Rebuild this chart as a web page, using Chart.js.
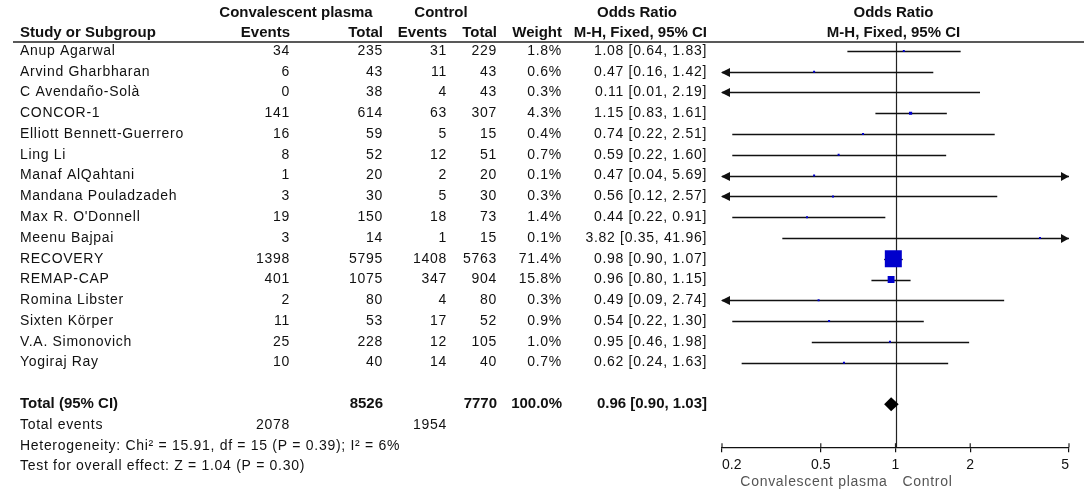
<!DOCTYPE html>
<html>
<head>
<meta charset="utf-8">
<title>Forest plot</title>
<script src="https://cdn.jsdelivr.net/npm/chart.js@4.4.1/dist/chart.umd.min.js"></script>
<style>
  html, body { margin: 0; padding: 0; background: #fff; }
  #wrap { width: 1084px; height: 497px; }
</style>
</head>
<body>
<div id="wrap"><canvas id="forest" width="1084" height="497"></canvas></div>
<script>
// forest plot: convalescent plasma vs control, odds ratios (log axis)

const studies = ['Anup Agarwal', 'Arvind Gharbharan', 'C Avendaño-Solà', 'CONCOR-1',
  'Elliott Bennett-Guerrero', 'Ling Li', 'Manaf AlQahtani', 'Mandana Pouladzadeh',
  "Max R. O'Donnell", 'Meenu Bajpai', 'RECOVERY', 'REMAP-CAP', 'Romina Libster',
  'Sixten Körper', 'V.A. Simonovich', 'Yogiraj Ray'];
const cpEvents = [34, 6, 0, 141, 16, 8, 1, 3, 19, 3, 1398, 401, 2, 11, 25, 10];
const cpTotal = [235, 43, 38, 614, 59, 52, 20, 30, 150, 14, 5795, 1075, 80, 53, 228, 40];
const ctEvents = [31, 11, 4, 63, 5, 12, 2, 5, 18, 1, 1408, 347, 4, 17, 12, 14];
const ctTotal = [229, 43, 43, 307, 15, 51, 20, 30, 73, 15, 5763, 904, 80, 52, 105, 40];
const weights = [1.8, 0.6, 0.3, 4.3, 0.4, 0.7, 0.1, 0.3, 1.4, 0.1, 71.4, 15.8, 0.3, 0.9, 1.0, 0.7];
const oddsRatio = [1.08, 0.47, 0.11, 1.15, 0.74, 0.59, 0.47, 0.56, 0.44, 3.82, 0.98, 0.96, 0.49, 0.54, 0.95, 0.62];
const ciLow = [0.64, 0.16, 0.01, 0.83, 0.22, 0.22, 0.04, 0.12, 0.22, 0.35, 0.90, 0.80, 0.09, 0.22, 0.46, 0.24];
const ciHigh = [1.83, 1.42, 2.19, 1.61, 2.51, 1.60, 5.69, 2.57, 0.91, 41.96, 1.07, 1.15, 2.74, 1.30, 1.98, 1.63];

const pooled = [0.96, 0.90, 1.03];          // OR, low, high
const pooledTotals = [8526, 7770];          // cp total, control total
const pooledEvents = [2078, 1954];          // cp events, control events
const xTicks = [0.2, 0.5, 1, 2, 5];
const heterogeneity = 'Heterogeneity: Chi² = 15.91, df = 15 (P = 0.39); I² = 6%';
const overallTest = 'Test for overall effect: Z = 1.04 (P = 0.30)';

const FAM = '"Liberation Sans", Arial, sans-serif';
const REG = '14px ' + FAM;
const BOLD = 'bold 15px ' + FAM;
const totalRow = studies.length + 1;

// right edges of the table columns
const col = { study: 20, cpEv: 290, cpTot: 383, ctEv: 447, ctTot: 497, weight: 562, or: 707 };

const f2 = v => v.toFixed(2);
const orLabel = (o, l, h) => `${f2(o)} [${f2(l)}, ${f2(h)}]`;

function txt(ctx, s, x, y, align, font, color) {
  ctx.font = font;
  ctx.letterSpacing = font === REG ? '0.7px' : '0px';
  ctx.textAlign = align;
  ctx.fillStyle = color || '#111';
  ctx.fillText(s, x, y);
}

const forestPlugin = {
  id: 'forest',
  beforeDatasetsDraw(chart) {
    const { ctx, chartArea: a, scales: { x, y } } = chart;
    ctx.save();
    // line of no effect
    const x1 = Math.round(x.getPixelForValue(1)) + 0.5;
    ctx.strokeStyle = '#222';
    ctx.lineWidth = 1.2;
    ctx.beginPath(); ctx.moveTo(x1, a.top); ctx.lineTo(x1, a.bottom); ctx.stroke();

    // tick marks also reach above the axis line
    xTicks.forEach(v => {
      const tx = x.getPixelForValue(v);
      ctx.beginPath(); ctx.moveTo(tx, a.bottom - 4); ctx.lineTo(tx, a.bottom); ctx.stroke();
    });

    // confidence intervals with arrows when clipped
    ctx.strokeStyle = '#111';
    ctx.fillStyle = '#111';
    ctx.lineWidth = 1.3;
    studies.forEach((s, i) => {
      const yy = Math.round(y.getPixelForValue(i)) + 0.5;
      const lo = Math.max(ciLow[i], x.min), hi = Math.min(ciHigh[i], x.max);
      const xl = x.getPixelForValue(lo), xh = x.getPixelForValue(hi);
      ctx.beginPath(); ctx.moveTo(xl, yy); ctx.lineTo(xh, yy); ctx.stroke();
      if (ciLow[i] < x.min) {
        ctx.beginPath(); ctx.moveTo(xl - 1, yy); ctx.lineTo(xl + 8, yy - 4.5); ctx.lineTo(xl + 8, yy + 4.5); ctx.closePath(); ctx.fill();
      }
      if (ciHigh[i] > x.max) {
        ctx.beginPath(); ctx.moveTo(xh, yy); ctx.lineTo(xh - 8, yy - 4.5); ctx.lineTo(xh - 8, yy + 4.5); ctx.closePath(); ctx.fill();
      }
    });
    ctx.restore();
  },
  afterDatasetsDraw(chart) {
    const { ctx, scales: { x, y } } = chart;
    ctx.save();
    // pooled diamond
    const yt = y.getPixelForValue(totalRow);
    ctx.fillStyle = '#000';
    ctx.beginPath();
    ctx.moveTo(x.getPixelForValue(pooled[1]), yt);
    ctx.lineTo(x.getPixelForValue(pooled[0]), yt - 7);
    ctx.lineTo(x.getPixelForValue(pooled[2]), yt);
    ctx.lineTo(x.getPixelForValue(pooled[0]), yt + 7);
    ctx.closePath(); ctx.fill();

    ctx.textBaseline = 'middle';
    const xc = x.getPixelForValue(1);
    // headers
    const h1 = y.getPixelForValue(-1.83), h2 = y.getPixelForValue(-0.86);
    txt(ctx, 'Convalescent plasma', 296, h1, 'center', BOLD);
    txt(ctx, 'Control', 441, h1, 'center', BOLD);
    txt(ctx, 'Odds Ratio', 637, h1, 'center', BOLD);
    txt(ctx, 'Odds Ratio', xc - 2, h1, 'center', BOLD);
    txt(ctx, 'Study or Subgroup', col.study, h2, 'left', BOLD);
    txt(ctx, 'Events', col.cpEv, h2, 'right', BOLD);
    txt(ctx, 'Total', col.cpTot, h2, 'right', BOLD);
    txt(ctx, 'Events', col.ctEv, h2, 'right', BOLD);
    txt(ctx, 'Total', col.ctTot, h2, 'right', BOLD);
    txt(ctx, 'Weight', col.weight, h2, 'right', BOLD);
    txt(ctx, 'M-H, Fixed, 95% CI', col.or, h2, 'right', BOLD);
    txt(ctx, 'M-H, Fixed, 95% CI', xc - 2, h2, 'center', BOLD);
    ctx.strokeStyle = '#222';
    ctx.lineWidth = 1.6;
    ctx.beginPath(); ctx.moveTo(13, 42); ctx.lineTo(1084, 42); ctx.stroke();

    // study rows
    studies.forEach((s, i) => {
      const yy = y.getPixelForValue(i);
      txt(ctx, s, col.study, yy, 'left', REG);
      txt(ctx, String(cpEvents[i]), col.cpEv, yy, 'right', REG);
      txt(ctx, String(cpTotal[i]), col.cpTot, yy, 'right', REG);
      txt(ctx, String(ctEvents[i]), col.ctEv, yy, 'right', REG);
      txt(ctx, String(ctTotal[i]), col.ctTot, yy, 'right', REG);
      txt(ctx, weights[i].toFixed(1) + '%', col.weight, yy, 'right', REG);
      txt(ctx, orLabel(oddsRatio[i], ciLow[i], ciHigh[i]), col.or, yy, 'right', REG);
    });

    // totals
    txt(ctx, 'Total (95% CI)', col.study, yt, 'left', BOLD);
    txt(ctx, String(pooledTotals[0]), col.cpTot, yt, 'right', BOLD);
    txt(ctx, String(pooledTotals[1]), col.ctTot, yt, 'right', BOLD);
    txt(ctx, '100.0%', col.weight, yt, 'right', BOLD);
    txt(ctx, orLabel(pooled[0], pooled[1], pooled[2]), col.or, yt, 'right', BOLD);
    const ye = y.getPixelForValue(totalRow + 1);
    txt(ctx, 'Total events', col.study, ye, 'left', REG);
    txt(ctx, String(pooledEvents[0]), col.cpEv, ye, 'right', REG);
    txt(ctx, String(pooledEvents[1]), col.ctEv, ye, 'right', REG);
    txt(ctx, heterogeneity, col.study, y.getPixelForValue(totalRow + 2), 'left', REG);
    txt(ctx, overallTest, col.study, y.getPixelForValue(totalRow + 3), 'left', REG);

    // favours labels
    txt(ctx, 'Convalescent plasma', xc - 8, 482, 'right', REG, '#555');
    txt(ctx, 'Control', xc + 7, 482, 'left', REG, '#555');
    ctx.restore();
  }
};

new Chart(document.getElementById('forest'), {
  type: 'scatter',
  data: {
    datasets: [{
      data: oddsRatio.map((v, i) => ({ x: v, y: i })),
      pointStyle: 'rect',
      pointRadius: weights.map(w => Math.max(2, 17 * Math.pow(w / 71.4, 0.6)) / Math.SQRT2),
      backgroundColor: '#0000cc',
      borderColor: '#0000cc',
      borderWidth: 0
    }]
  },
  options: {
    responsive: false, animation: false, events: [],
    layout: { padding: { left: 722, right: 15, top: 42, bottom: 18 } },
    plugins: { legend: { display: false }, tooltip: { enabled: false } },
    scales: {
      x: {
        type: 'logarithmic', min: xTicks[0], max: xTicks[xTicks.length - 1],
        afterBuildTicks: s => { s.ticks = xTicks.map(v => ({ value: v })); },
        ticks: { callback: v => String(v), align: 'inner', autoSkip: false, maxRotation: 0,
                 color: '#111', padding: 5, font: { family: FAM, size: 14 } },
        grid: { drawOnChartArea: false, tickLength: 5, color: '#111', lineWidth: 1.2 },
        border: { color: '#111', width: 1.2 }
      },
      y: { type: 'linear', min: -0.43, max: 19.07, reverse: true, display: false }
    }
  },
  plugins: [forestPlugin]
});
</script>
</body>
</html>
